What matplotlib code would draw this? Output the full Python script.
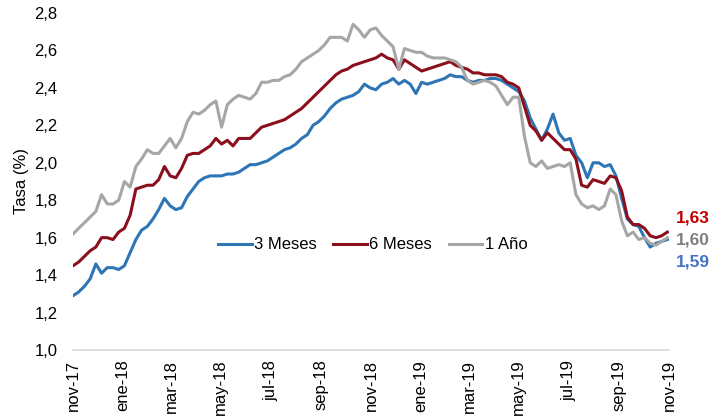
import matplotlib
matplotlib.use("Agg")
import matplotlib.pyplot as plt
import pandas as pd

plt.rcParams['font.family'] = ['Liberation Sans', 'DejaVu Sans']

# Weekly observations starting 2017-11-01
dates = pd.date_range("2017-11-01", periods=105, freq="7D")

tres_meses = [
    1.29, 1.31, 1.34, 1.38, 1.46, 1.41, 1.44, 1.44, 1.43, 1.45,
    1.52, 1.59, 1.64, 1.66, 1.70, 1.75, 1.81, 1.77, 1.75, 1.76,
    1.82, 1.86, 1.90, 1.92, 1.93, 1.93, 1.93, 1.94, 1.94, 1.95,
    1.97, 1.99, 1.99, 2.00, 2.01, 2.03, 2.05, 2.07, 2.08, 2.10,
    2.13, 2.15, 2.20, 2.22, 2.25, 2.29, 2.32, 2.34, 2.35, 2.36,
    2.38, 2.42, 2.40, 2.39, 2.42, 2.43, 2.45, 2.42, 2.44, 2.42,
    2.37, 2.43, 2.42, 2.43, 2.44, 2.45, 2.47, 2.46, 2.46, 2.44,
    2.43, 2.44, 2.44, 2.45, 2.45, 2.44, 2.42, 2.40, 2.38, 2.33,
    2.24, 2.18, 2.12, 2.18, 2.26, 2.16, 2.12, 2.13, 2.04, 2.00,
    1.92, 2.00, 2.00, 1.98, 1.99, 1.93, 1.81, 1.70, 1.67, 1.66,
    1.60, 1.55, 1.57, 1.58, 1.59,
]

seis_meses = [
    1.45, 1.47, 1.50, 1.53, 1.55, 1.60, 1.60, 1.59, 1.63, 1.65,
    1.72, 1.86, 1.87, 1.88, 1.88, 1.91, 1.98, 1.93, 1.92, 1.97,
    2.04, 2.05, 2.05, 2.07, 2.09, 2.13, 2.10, 2.12, 2.09, 2.13,
    2.13, 2.13, 2.16, 2.19, 2.20, 2.21, 2.22, 2.23, 2.25, 2.27,
    2.29, 2.32, 2.35, 2.38, 2.41, 2.44, 2.47, 2.49, 2.50, 2.52,
    2.53, 2.54, 2.55, 2.56, 2.58, 2.56, 2.55, 2.50, 2.55, 2.53,
    2.51, 2.49, 2.50, 2.51, 2.52, 2.53, 2.54, 2.52, 2.51, 2.50,
    2.48, 2.48, 2.47, 2.47, 2.47, 2.46, 2.43, 2.42, 2.40, 2.30,
    2.20, 2.17, 2.12, 2.16, 2.13, 2.10, 2.07, 2.07, 2.02, 1.88,
    1.87, 1.91, 1.90, 1.89, 1.93, 1.92, 1.85, 1.71, 1.67, 1.67,
    1.65, 1.61, 1.60, 1.61, 1.63,
]

un_anio = [
    1.62, 1.65, 1.68, 1.71, 1.74, 1.83, 1.78, 1.78, 1.80, 1.90,
    1.87, 1.98, 2.02, 2.07, 2.05, 2.05, 2.09, 2.13, 2.08, 2.13,
    2.22, 2.27, 2.26, 2.28, 2.31, 2.33, 2.19, 2.31, 2.34, 2.36,
    2.35, 2.34, 2.37, 2.43, 2.43, 2.44, 2.44, 2.46, 2.47, 2.50,
    2.54, 2.56, 2.58, 2.60, 2.63, 2.67, 2.67, 2.67, 2.65, 2.74,
    2.71, 2.67, 2.71, 2.72, 2.68, 2.65, 2.62, 2.50, 2.61, 2.60,
    2.59, 2.59, 2.57, 2.56, 2.56, 2.56, 2.55, 2.54, 2.51, 2.44,
    2.42, 2.43, 2.44, 2.43, 2.41, 2.36, 2.31, 2.35, 2.35, 2.14,
    2.00, 1.98, 2.01, 1.97, 1.98, 1.99, 1.98, 2.00, 1.83, 1.78,
    1.76, 1.77, 1.75, 1.77, 1.86, 1.83, 1.69, 1.61, 1.63, 1.59,
    1.60, 1.57, 1.56, 1.58, 1.60,
]

series_names = ["3 Meses", "6 Meses", "1 Año"]
series_colors = ["#2E75B6", "#8B0F1C", "#A6A6A6"]
end_labels = ["1,59", "1,63", "1,60"]
end_label_colors = ["#4472C4", "#C00000", "#7F7F7F"]
end_label_y = [1.47, 1.705, 1.587]

tick_dates = pd.date_range("2017-11-01", "2019-11-01", freq="2MS")
tick_labels = ["nov-17", "ene-18", "mar-18", "may-18", "jul-18", "sep-18",
               "nov-18", "ene-19", "mar-19", "may-19", "jul-19", "sep-19",
               "nov-19"]
y_ticks = [1.0, 1.2, 1.4, 1.6, 1.8, 2.0, 2.2, 2.4, 2.6, 2.8]
y_tick_labels = ["1,0", "1,2", "1,4", "1,6", "1,8", "2,0", "2,2", "2,4", "2,6", "2,8"]

fig = plt.figure(figsize=(7.11, 4.2), dpi=100)
ax = fig.add_axes([73 / 711, 1 - 350 / 420, (669 - 73) / 711, (350 - 13) / 420])

for vals, name, col in zip([tres_meses, seis_meses, un_anio], series_names, series_colors):
    ax.plot(dates, vals, color=col, lw=2.2, label=name, solid_joinstyle="round")

ax.set_xlim(pd.Timestamp("2017-11-01"), pd.Timestamp("2019-11-01"))
ax.set_ylim(1.0, 2.8)
ax.set_yticks(y_ticks)
ax.set_yticklabels(y_tick_labels)
ax.set_xticks(tick_dates)
ax.set_xticklabels(tick_labels, rotation=90)
ax.tick_params(axis="both", length=0, labelsize=12, colors="black")
ax.tick_params(axis="y", pad=11)
ax.tick_params(axis="x", pad=7)

for s in ["top", "right", "left"]:
    ax.spines[s].set_visible(False)
ax.spines["bottom"].set_color("#D9D9D9")
ax.spines["bottom"].set_linewidth(1.2)

ax.set_ylabel("Tasa (%)", fontsize=12, labelpad=4)

leg = ax.legend(loc="center", bbox_to_anchor=(0.503, 0.312), ncol=3, frameon=False,
                fontsize=12, handlelength=2.0, handletextpad=0.15, columnspacing=1.0)

for lab, col, yv in zip(end_labels, end_label_colors, end_label_y):
    ax.text(1.012, yv, lab, transform=ax.get_yaxis_transform(), color=col,
            fontsize=12.5, fontweight="bold", va="center", ha="left")

fig.savefig("out.png", dpi=100)
